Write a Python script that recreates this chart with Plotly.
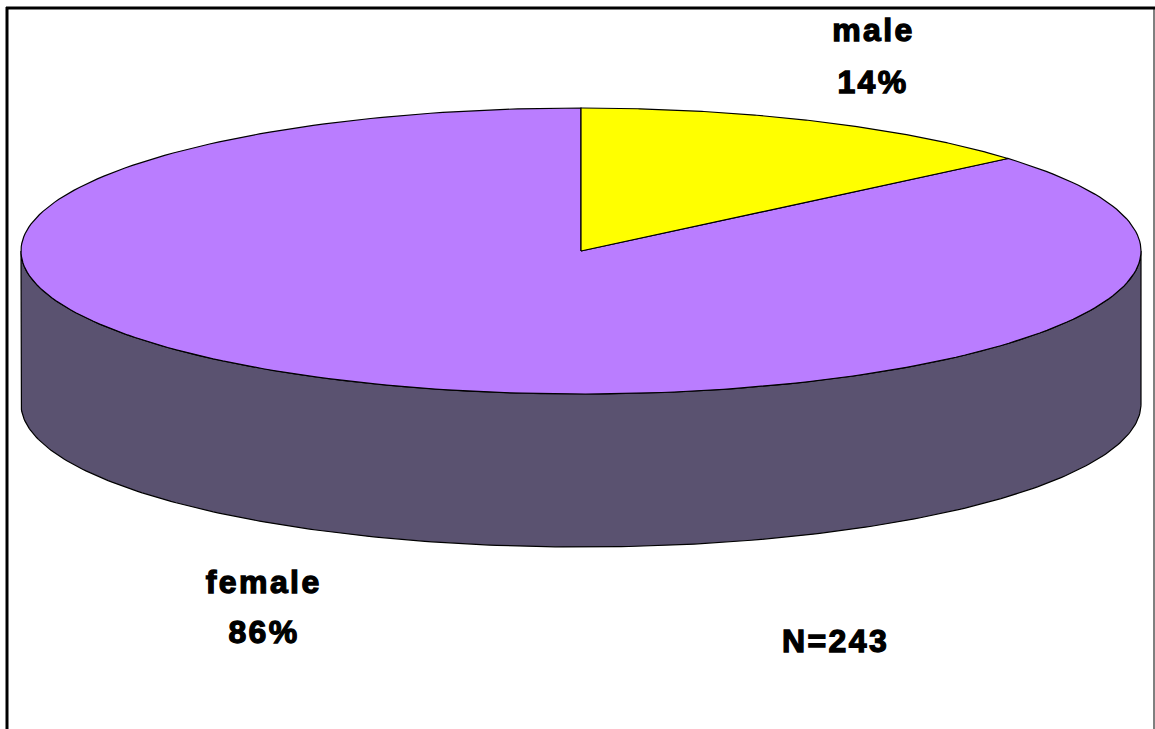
import numpy as np
import plotly.graph_objects as go

# ── Data ─────────────────────────────────────────────────────────────────────
categories = ["male", "female"]
shares = [13.8, 86.2]
share_labels = ["14%", "86%"]
sample_note = "N=243"

# ── Pie geometry (pixels, y pointing down) ───────────────────────────────────
CX, CY = 581, 251
RX, RY = 560, 143
DEPTH = 153

PURPLE = "#BA7DFF"
YELLOW = "#FFFF00"
SIDE = "#5A5270"
OUTLINE = "#000000"


def rim(start, end, n=240, drop=0):
    """Points on the ellipse; angles in degrees, clockwise from 12 o'clock."""
    t = np.radians(np.linspace(start, end, n))
    return CX + RX * np.sin(t), CY - RY * np.cos(t) + drop


def wedge(start, end):
    x, y = rim(start, end)
    return np.r_[CX, x, CX], np.r_[CY, y, CY]


def poly(x, y, color, width=1.2):
    return go.Scatter(x=x, y=y, mode="lines", fill="toself", fillcolor=color,
                      line=dict(color=OUTLINE, width=width),
                      hoverinfo="skip", showlegend=False)


male_deg = shares[0] / sum(shares) * 360

fig = go.Figure()

# side wall: front half of the rim, dropped by the pie depth
top_x, top_y = rim(90, 270)
low_x, low_y = rim(270, 90, drop=DEPTH)
fig.add_trace(poly(np.r_[top_x, low_x, top_x[0]], np.r_[top_y, low_y, top_y[0]], SIDE))

fig.add_trace(poly(*wedge(male_deg, 360), PURPLE))
fig.add_trace(poly(*wedge(0, male_deg), YELLOW))

FONT = dict(family="Liberation Sans, Arial, sans-serif", size=32, color="black", weight="bold")
texts = [
    (873, 30, categories[0]),
    (873, 82, share_labels[0]),
    (263, 582, categories[1]),
    (264, 632, share_labels[1]),
    (835, 641, sample_note),
]
for x, y, s in texts:
    fig.add_annotation(x=x, y=y, text=s, showarrow=False, font=FONT,
                       xanchor="center", yanchor="middle")

# chart frame, open at the bottom where the picture is cut off
fig.add_shape(type="line", x0=6, x1=1155, y0=8, y1=8, line=dict(color="black", width=3))
fig.add_shape(type="line", x0=7, x1=7, y0=7, y1=729, line=dict(color="black", width=3))
fig.add_shape(type="line", x0=1154, x1=1154, y0=8, y1=729, line=dict(color="black", width=1))

fig.update_layout(
    width=1155, height=729,
    margin=dict(l=0, r=0, t=0, b=0),
    paper_bgcolor="white", plot_bgcolor="white",
    showlegend=False,
    xaxis=dict(range=[0, 1155], visible=False, fixedrange=True),
    yaxis=dict(range=[729, 0], visible=False, fixedrange=True),
)

# the labels in the original are widely spaced and heavily struck
post = """
document.body.style.margin = '0';
document.querySelectorAll('.annotation-text').forEach(function (t) {
  t.style.letterSpacing = '2.4px';
  t.style.stroke = 'black';
  t.style.strokeWidth = '1.3px';
});
"""
fig.write_html("out.html", config={"displayModeBar": False}, post_script=post)
